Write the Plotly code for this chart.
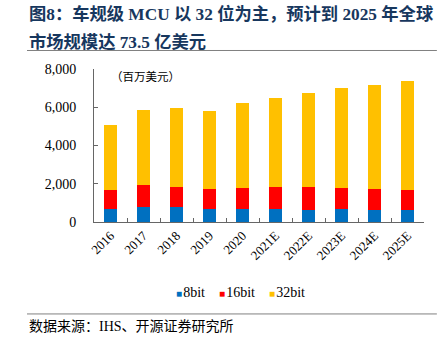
import plotly.graph_objects as go

# Automotive MCU market by bit width, USD millions
years = ["2016", "2017", "2018", "2019", "2020", "2021E", "2022E", "2023E", "2024E", "2025E"]
mcu_8bit = [680, 780, 760, 680, 680, 680, 640, 660, 625, 625]
mcu_16bit = [1000, 1130, 1080, 1060, 1090, 1140, 1180, 1130, 1095, 1055]
mcu_32bit = [3370, 3960, 4100, 4090, 4430, 4670, 4930, 5220, 5430, 5670]

series_names = ["8bit", "16bit", "32bit"]
series_colors = ["#0070C0", "#FF0000", "#FFC000"]
y_ticks = [0, 2000, 4000, 6000, 8000]
y_tick_text = ["0", "2,000", "4,000", "6,000", "8,000"]

title_lines = ["图8：车规级 MCU 以 32 位为主，预计到 2025 年全球", "市场规模达 73.5 亿美元"]
unit_label = "（百万美元）"
source_text = "数据来源：IHS、开源证券研究所"

SERIF = "Liberation Serif, Noto Sans CJK SC, serif"
TITLE_COLOR = "#17375E"

fig = go.Figure()
for name, color, vals in zip(series_names, series_colors, [mcu_8bit, mcu_16bit, mcu_32bit]):
    fig.add_trace(go.Bar(
        x=years, y=vals, name=name,
        marker=dict(color=color, line=dict(width=0)),
        showlegend=False,
    ))

# legend row built as rich text: small colour square, then the series name
legend_html = "&nbsp;&nbsp;&nbsp;&nbsp;".join(
    f"<span style='color:{c};font-size:10px'>■</span>&#8202;{n}" for n, c in zip(series_names, series_colors)
)

annotations = [
    dict(text=f"<b>{title_lines[0]}</b>", x=-0.203, y=1.359, xref="paper", yref="paper",
         xanchor="left", yanchor="middle", showarrow=False,
         font=dict(family=SERIF, size=17.3, color=TITLE_COLOR)),
    dict(text=f"<b>{title_lines[1]}</b>", x=-0.203, y=1.176, xref="paper", yref="paper",
         xanchor="left", yanchor="middle", showarrow=False,
         font=dict(family=SERIF, size=17.3, color=TITLE_COLOR)),
    dict(text=unit_label, x=0.045, y=0.948, xref="paper", yref="paper",
         xanchor="left", yanchor="middle", showarrow=False,
         font=dict(family=SERIF, size=11.5, color="#000")),
    dict(text=legend_html, x=0.445, y=-0.464, xref="paper", yref="paper",
         xanchor="center", yanchor="middle", showarrow=False,
         font=dict(family=SERIF, size=14, color="#000")),
    dict(text=source_text, x=-0.203, y=-0.686, xref="paper", yref="paper",
         xanchor="left", yanchor="middle", showarrow=False,
         font=dict(family=SERIF, size=14, color="#000")),
]

shapes = [
    dict(type="line", xref="paper", yref="paper", x0=-0.203, x1=1.039, y0=1.121, y1=1.121,
         line=dict(color="#808080", width=1)),
    dict(type="line", xref="paper", yref="paper", x0=-0.203, x1=1.039, y0=-0.601, y1=-0.601,
         line=dict(color="#808080", width=1)),
]

fig.update_layout(
    width=445, height=342,
    margin=dict(l=94, r=21, t=69, b=120, pad=0),
    barmode="stack", bargap=0.6,
    plot_bgcolor="white", paper_bgcolor="white",
    annotations=annotations, shapes=shapes,
    font=dict(family=SERIF, color="#000"),
)
fig.update_xaxes(
    showline=True, linecolor="#666", linewidth=1,
    ticks="inside", ticklen=4, tickcolor="#666", tickson="boundaries",
    tickangle=-45, tickfont=dict(family=SERIF, size=13, color="#000"),
    showgrid=False, zeroline=False,
)
fig.update_yaxes(
    range=[0, 8000], tickvals=y_ticks, ticktext=y_tick_text,
    showline=True, linecolor="#666", linewidth=1,
    ticks="inside", ticklen=4, tickcolor="#666",
    tickfont=dict(family=SERIF, size=14, color="#000"), ticklabelstandoff=14,
    showgrid=False, zeroline=False,
)

fig.write_html("out.html")
